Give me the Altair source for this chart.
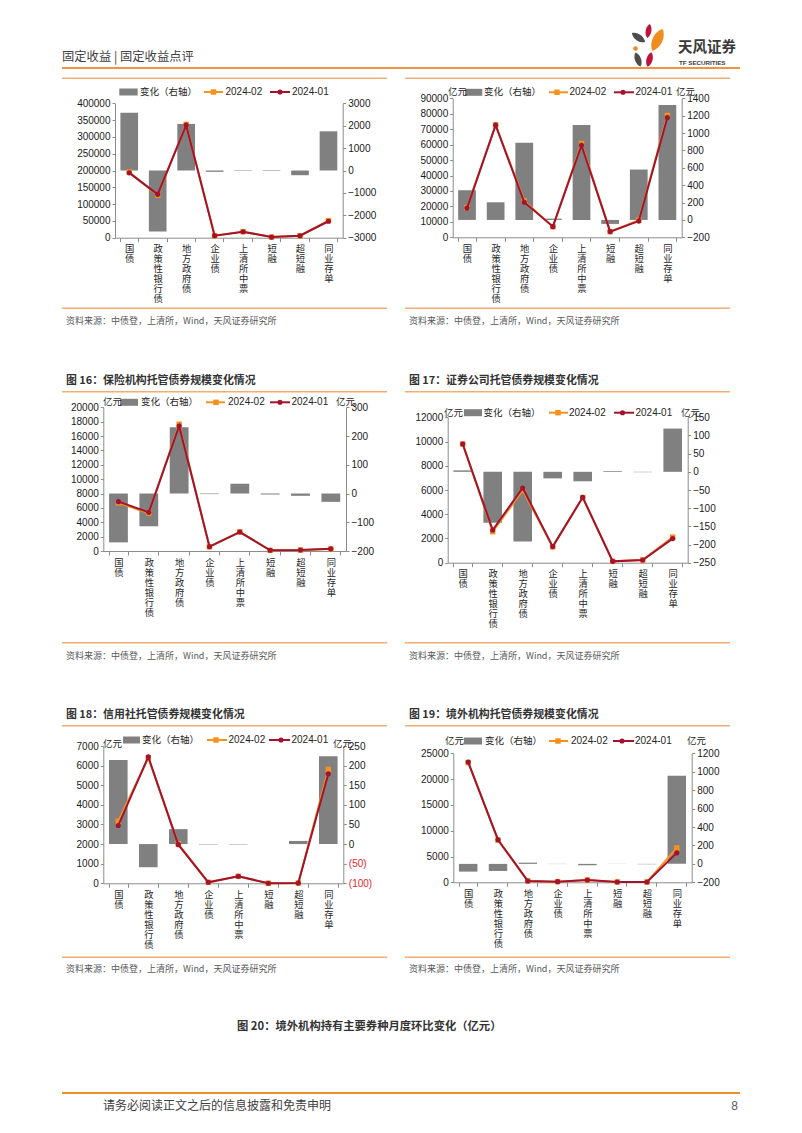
import altair as alt
import pandas as pd

cats = ["国债", "政策性银行债", "地方政府债", "企业债", "上清所中票", "短融", "超短融", "同业存单"]

# Panel 1 (top-left)
p1_chg = [2580, -2720, 2080, -60, -20, -20, -210, 1750]
p1_v01 = [193000, 129000, 335000, 6000, 17900, 1800, 6000, 49000]
p1_v02 = [195580, 126280, 337080, 5940, 17880, 1780, 5790, 50750]
# Panel 2 (top-right)
p2_chg = [342, 203, 887, 15, 1094, -46, 580, 1324]
p2_v01 = [18900, 72600, 22700, 6900, 59600, 3700, 10500, 77500]
p2_v02 = [19242, 72803, 23587, 6915, 60694, 3654, 11080, 78824]
# Panel 3: 保险机构
p3_chg = [-170, -114, 231, -2, 34, -3, -8, -29]
p3_v01 = [6870, 5380, 17400, 600, 2640, 95, 140, 300]
p3_v02 = [6700, 5266, 17631, 598, 2674, 92, 132, 271]
# Panel 4: 证券公司
p4_chg = [4, -140, -192, -18, -26, 2, -1, 119]
p4_v01 = [9800, 2700, 6170, 1330, 5400, 110, 225, 1990]
p4_v02 = [9804, 2560, 5978, 1312, 5374, 112, 224, 2109]
# Panel 5: 信用社
p5_chg = [214, -59, 38, -1, -1, 0, 8, 224]
p5_v01 = [2950, 6450, 1970, 52, 357, 5, 10, 5580]
p5_v02 = [3164, 6391, 2008, 51, 356, 5, 18, 5804]
# Panel 6: 境外机构
p6_chg = [-84, -77, 13, -2, -15, -1, -4, 957]
p6_v01 = [23300, 8250, 255, 130, 460, 66, 68, 5700]
p6_v02 = [23216, 8173, 268, 128, 445, 65, 64, 6657]

src_text = "资料来源：中债登，上清所，Wind，天风证券研究所"

CJK = "Noto Sans CJK SC"
LAT = "Liberation Sans"
ORANGE = "#F5921E"
RED = "#A3132F"
BARC = "#808080"
AXC = "#8C8C8C"
PLINE = "#F2AE72"
HLINE = "#EC9446"

TW, TH = 786, 1112   # drawing area = page minus the 8px margin
one = pd.DataFrame({"k": [0]})


# all helper coordinates are page pixels; the view origin is page (8, 8)
def txt(x, y, s, size=10.0, font=CJK, color="#262626", align="left", weight="normal"):
    return alt.Chart(one).mark_text(text=s, align=align, baseline="middle", fontSize=size,
                                    font=font, color=color, fontWeight=weight).encode(
        x=alt.value(x - 8), y=alt.value(y - 8))


def hrule(x1, x2, y, color, w=1.2):
    return alt.Chart(one).mark_rule(color=color, strokeWidth=w).encode(
        x=alt.value(x1 - 8), x2=alt.value(x2 - 8), y=alt.value(y - 8))


def box(x1, x2, y1, y2, color):
    return alt.Chart(one).mark_rect(color=color).encode(
        x=alt.value(x1 - 8), x2=alt.value(x2 - 8), y=alt.value(y1 - 8), y2=alt.value(y2 - 8))


def sym(x, y, shape, color, size, angle=0):
    return alt.Chart(one).mark_point(shape=shape, filled=True, color=color, size=size,
                                     angle=angle, opacity=1, strokeWidth=0).encode(
        x=alt.value(x - 8), y=alt.value(y - 8))


PANELS = [
    dict(chg=p1_chg, v01=p1_v01, v02=p1_v02, X=115, Y=103.3, W=227.7, H=134.4,
         ldom=[0, 400000], lstep=50000, rdom=[-3000, 3000], rstep=1000, side="L",
         top=78.3, bot=308.3, src=320.5, title=None, units=None,
         leg=dict(y=92, rect=(119.3, 137.7), t1=140, lo=(204, 223), mo=213.5, t2=225.5,
                  lr=(270, 290), mr=280, t3=292)),
    dict(chg=p2_chg, v01=p2_v01, v02=p2_v02, X=452.7, Y=98.3, W=229, H=139,
         ldom=[0, 90000], lstep=10000, rdom=[-200, 1400], rstep=200, side="R",
         top=78.3, bot=308.3, src=320.5, title=None, units=((448, 676), 92.3),
         leg=dict(y=92.3, rect=(465, 482.3), t1=484, lo=(549, 568), mo=557, t2=569.5,
                  lr=(614, 634), mr=623, t3=635.5)),
    dict(chg=p3_chg, v01=p3_v01, v02=p3_v02, X=103.3, Y=407.3, W=242.7, H=143.7,
         ldom=[0, 20000], lstep=2000, rdom=[-200, 300], rstep=100, side="L",
         top=391.7, bot=642.7, src=655.7, title=("图 16：保险机构托管债券规模变化情况", 381),
         units=((103, 336), 402.3),
         leg=dict(y=402.3, rect=(120, 138), t1=141, lo=(206, 225), mo=216, t2=228,
                  lr=(270, 290), mr=280, t3=291.5)),
    dict(chg=p4_chg, v01=p4_v01, v02=p4_v02, X=447.7, Y=417.3, W=240, H=145.4,
         ldom=[0, 12000], lstep=2000, rdom=[-250, 150], rstep=50, side="R",
         top=391.7, bot=642.7, src=655.7, title=("图 17：证券公司托管债券规模变化情况", 381),
         units=((444, 681), 412.7),
         leg=dict(y=412.7, rect=(464, 482), t1=483.5, lo=(549, 568), mo=558, t2=569,
                  lr=(614, 634), mr=622.5, t3=635.5)),
    dict(chg=p5_chg, v01=p5_v01, v02=p5_v02, X=103.3, Y=746, W=240, H=137.3,
         ldom=[0, 7000], lstep=1000, rdom=[-100, 250], rstep=50, side="L", paren=True,
         top=725.7, bot=957.3, src=969, title=("图 18：信用社托管债券规模变化情况", 715),
         units=((103, 333), 744),
         leg=dict(y=740, rect=(123, 140), t1=142, lo=(207, 227), mo=216, t2=228.5,
                  lr=(269, 290), mr=281, t3=291.5)),
    dict(chg=p6_chg, v01=p6_v01, v02=p6_v02, X=453.3, Y=753.3, W=238.4, H=129,
         ldom=[0, 25000], lstep=5000, rdom=[-200, 1200], rstep=200, side="R",
         top=725.7, bot=957.3, src=969, title=("图 19：境外机构托管债券规模变化情况", 715),
         units=((445, 687), 741),
         leg=dict(y=741, rect=(464, 482), t1=485, lo=(549, 568), mo=558, t2=571,
                  lr=(613, 634), mr=622, t3=635)),
]


def panel_layers(p):
    X0, Y0, W, H = p["X"] - 8, p["Y"] - 8, p["W"], p["H"]
    df = pd.DataFrame({"cat": cats, "chg": p["chg"], "v01": p["v01"], "v02": p["v02"]})

    def xscale():
        return alt.Scale(domain=cats, range=[X0, X0 + W], paddingInner=0.38, paddingOuter=0.19)

    xaxis = alt.Axis(orient="bottom", offset=(Y0 + H) - TH, title=None,
                     labelExpr="split(datum.label, '')", labelAngle=0,
                     labelBaseline="top", labelAlign="center", labelLineHeight=10,
                     labelFont=CJK, labelFontSize=9.3, labelColor="#262626",
                     tickBand="extent", tickSize=4, labelPadding=3,
                     domainColor=AXC, tickColor=AXC, labelOverlap=False,
                     labelBound=False, grid=False)
    lticks = list(range(p["ldom"][0], p["ldom"][1] + 1, p["lstep"]))
    rticks = list(range(p["rdom"][0], p["rdom"][1] + 1, p["rstep"]))
    common = dict(title=None, grid=False, labelFont=LAT, labelFontSize=10,
                  domainColor=AXC, tickColor=AXC, tickSize=3, labelPadding=2,
                  labelOverlap=False, labelFlush=False, format="d")
    roff = (X0 + W) - TW
    if p.get("paren"):
        raxis = alt.Axis(orient="right", offset=roff, values=rticks,
                         labelExpr="datum.value < 0 ? '(' + (-datum.value) + ')' : '' + datum.value",
                         labelColor={"condition": {"test": "datum.value < 0", "value": "#E8262B"},
                                     "value": "#1a1a1a"},
                         **common)
    else:
        raxis = alt.Axis(orient="right", offset=roff, values=rticks, labelColor="#1a1a1a", **common)
    laxis = alt.Axis(orient="left", offset=-X0, values=lticks, labelColor="#1a1a1a", **common)

    base = alt.Chart(df)
    bars = base.mark_bar(color=BARC).encode(
        x=alt.X("cat:N", sort=cats, scale=xscale(), axis=xaxis),
        y=alt.Y("chg:Q", scale=alt.Scale(domain=p["rdom"], range=[Y0 + H, Y0], nice=False, zero=False),
                axis=raxis))
    l02 = base.mark_line(color=ORANGE, strokeWidth=2,
                         point=alt.OverlayMarkDef(shape="square", filled=True, color=ORANGE, size=30)).encode(
        x=alt.X("cat:N", sort=cats, scale=xscale(), axis=None),
        y=alt.Y("v02:Q", scale=alt.Scale(domain=p["ldom"], range=[Y0 + H, Y0], nice=False), axis=laxis))
    l01 = base.mark_line(color=RED, strokeWidth=2,
                         point=alt.OverlayMarkDef(shape="circle", filled=True, color=RED, size=26)).encode(
        x=alt.X("cat:N", sort=cats, scale=xscale(), axis=None),
        y=alt.Y("v01:Q", scale=alt.Scale(domain=p["ldom"], range=[Y0 + H, Y0], nice=False), axis=None))

    if p["side"] == "L":
        lx1, lx2, sx = 62, 387, 66
    else:
        lx1, lx2, sx = 405, 730, 409

    lg = p["leg"]
    ly = lg["y"]
    decor = [
        hrule(lx1, lx2, p["top"], PLINE, 1.5),
        hrule(lx1, lx2, p["bot"], PLINE, 1.5),
        txt(sx, p["src"], src_text, size=9, color="#595959"),
        box(lg["rect"][0], lg["rect"][1], ly - 3.5, ly + 3.5, BARC),
        txt(lg["t1"], ly, "变化（右轴）", size=9.5),
        hrule(lg["lo"][0], lg["lo"][1], ly, ORANGE, 2),
        sym(lg["mo"], ly, "square", ORANGE, 30),
        txt(lg["t2"], ly, "2024-02", size=10, font=LAT),
        hrule(lg["lr"][0], lg["lr"][1], ly, RED, 2),
        sym(lg["mr"], ly, "circle", RED, 26),
        txt(lg["t3"], ly, "2024-01", size=10, font=LAT),
    ]
    if p["title"]:
        decor.append(txt(sx, p["title"][1], p["title"][0], size=10.9, weight="bold", color="#333333"))
    if p["units"]:
        (ux1, ux2), uy = p["units"]
        decor.append(txt(ux1, uy, "亿元", size=9.5))
        decor.append(txt(ux2, uy, "亿元", size=9.5))

    return [bars, l02, l01] + decor


leaf = "M0,-1C0.55,-0.55 0.55,0.55 0,1C-0.55,0.55 -0.55,-0.55 0,-1Z"
page_decor = [
    # header
    txt(62, 57, "固定收益 | 固定收益点评", size=12.3, color="#404040"),
    hrule(62, 740, 68, HLINE, 2),
    sym(638.5, 37.5, leaf, "#4D4D4D", 256, 305),
    sym(648.5, 31, leaf, "#C0143C", 196, 10),
    sym(657.5, 40, leaf, "#F08C1E", 576, 25),
    sym(635.5, 48.5, "circle", "#F08C1E", 22),
    sym(638, 59.5, leaf, "#4D4D4D", 225, 340),
    sym(649.5, 59.5, leaf, "#C0143C", 225, 15),
    txt(678, 48, "天风证券", size=14.5, weight="bold", color="#3a3a3a"),
    txt(679, 63, "TF SECURITIES", size=6.2, font=LAT, weight="bold", color="#3a3a3a"),
    # footer
    txt(237, 1027, "图 20：境外机构持有主要券种月度环比变化（亿元）", size=11.3, weight="bold", color="#333333"),
    hrule(62, 740, 1093, "#E8912C", 2),
    txt(103, 1106, "请务必阅读正文之后的信息披露和免责申明", size=12, color="#404040"),
    txt(738, 1106, "8", size=12, font=LAT, align="right", color="#595959"),
]

layers = []
for p in PANELS:
    layers += panel_layers(p)
layers += page_decor

chart = alt.layer(*layers).resolve_scale(x="independent", y="independent").properties(
    width=TW, height=TH, padding=0, background="white",
    autosize=alt.AutoSizeParams(type="none"),
).configure_view(stroke=None)

chart.save("out.html", embed_options={"renderer": "svg", "actions": False})
